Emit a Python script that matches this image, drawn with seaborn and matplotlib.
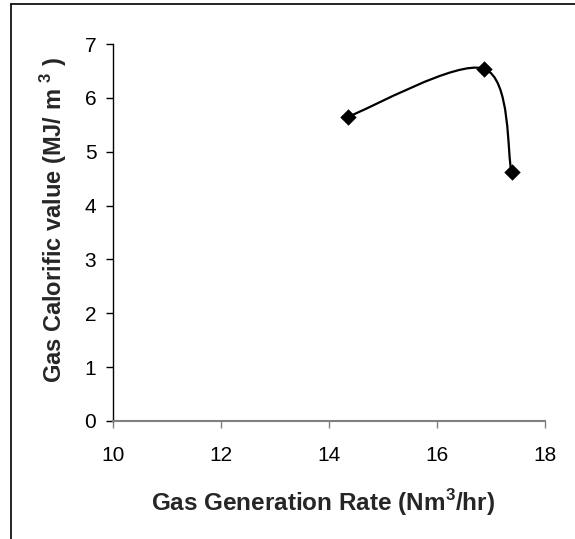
import numpy as np
import pandas as pd
import seaborn as sns
import matplotlib.pyplot as plt
from matplotlib.path import Path
from matplotlib.patches import PathPatch
from matplotlib.lines import Line2D

# data
gas_rate = [14.35, 16.87, 17.38]        # Nm3/hr
calorific = [5.65, 6.54, 4.62]          # MJ/m3

x_ticks = [10, 12, 14, 16, 18]
y_ticks = [0, 1, 2, 3, 4, 5, 6, 7]

sns.set_theme(style="white")
plt.rcParams['font.family'] = ['Liberation Sans', 'DejaVu Sans']
plt.rcParams['mathtext.fontset'] = 'custom'
plt.rcParams['mathtext.rm'] = 'Liberation Sans'
plt.rcParams['mathtext.bf'] = 'Liberation Sans:bold'

fig = plt.figure(figsize=(5.75, 5.39), dpi=100)
ax = fig.add_axes([113 / 575, 1 - 421 / 539, 432 / 575, 377 / 539])

df = pd.DataFrame({'rate': gas_rate, 'cv': calorific})

# excel style smoothed line (catmull-rom bezier through the points)
pts = np.column_stack([gas_rate, calorific])
verts = [pts[0]]
codes = [Path.MOVETO]
for i in range(len(pts) - 1):
    p_prev = pts[i - 1] if i > 0 else pts[i]
    p_next = pts[i + 2] if i + 2 < len(pts) else pts[i + 1]
    c1 = pts[i] + (pts[i + 1] - p_prev) / 6
    c2 = pts[i + 1] - (p_next - pts[i]) / 6
    verts += [c1, c2, pts[i + 1]]
    codes += [Path.CURVE4] * 3
ax.add_patch(PathPatch(Path(verts, codes), facecolor='none', edgecolor='black', lw=1.6, zorder=2))

sns.scatterplot(data=df, x='rate', y='cv', marker='D', s=70, color='black',
                edgecolor='black', linewidth=0, zorder=3, ax=ax)

ax.set_xlim(10, 18)
ax.set_ylim(0, 7)
ax.set_xticks(x_ticks)
ax.set_yticks(y_ticks)
ax.tick_params(axis='both', labelsize=15, length=5, width=1, direction='out')
ax.tick_params(axis='x', colors='#808080', labelcolor='black', pad=13)
ax.tick_params(axis='y', colors='black', labelcolor='black', pad=7)
ax.tick_params(bottom=True, left=True)

for s in ['top', 'right']:
    ax.spines[s].set_visible(False)
ax.spines['bottom'].set_color('#808080')
ax.spines['bottom'].set_linewidth(1.5)
ax.spines['left'].set_color('black')
ax.spines['left'].set_linewidth(1)

ax.set_xlabel(r'Gas Generation Rate (Nm$^{\mathbf{3}}$/hr)', fontsize=17.5, fontweight='bold')
ax.set_ylabel(r'Gas Calorific value (MJ/ m $^{\mathbf{3}}$ )', fontsize=17, fontweight='bold')
ax.xaxis.set_label_coords(0.485, -0.176)
ax.yaxis.set_label_coords(-0.102, 0.533)

# outer frame (top and left edges visible)
fig.add_artist(Line2D([11 / 575, 11 / 575], [0, 1 - 4 / 539], color='black', lw=1.2))
fig.add_artist(Line2D([11 / 575, 1], [1 - 4 / 539, 1 - 4 / 539], color='black', lw=1.2))

fig.savefig('out.png', dpi=100)
